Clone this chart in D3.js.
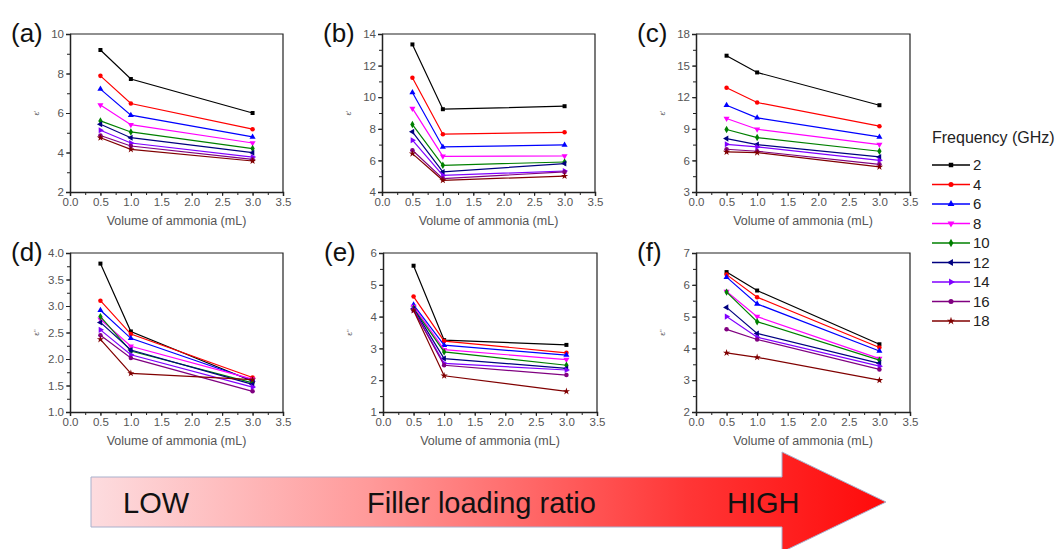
<!DOCTYPE html>
<html>
<head>
<meta charset="utf-8">
<script src="https://cdn.jsdelivr.net/npm/d3@7"></script>
<style>
  body { margin: 0; background: #fff; }
  svg { font-family: Arial, "Liberation Sans", sans-serif; }
  .tick text { fill: #555; font-size: 11.5px; }
  .tick line, .domain { stroke: #222; }
</style>
</head>
<body>
<script>
var volumes = [0.5, 1.0, 3.0],
    freqs = ["2", "4", "6", "8", "10", "12", "14", "16", "18"],
    colors = ["#000000", "#ff0000", "#0000ff", "#ff00ff", "#008000", "#000080", "#8000ff", "#800080", "#800000"];

// real permittivity, one row per frequency (2..18 GHz)
var epsRealA = [[9.19, 7.72, 6.0], [7.88, 6.48, 5.18], [7.21, 5.89, 4.79], [6.40, 5.41, 4.48], [5.60, 5.04, 4.20],
                [5.43, 4.75, 3.99], [5.13, 4.48, 3.77], [4.86, 4.33, 3.65], [4.75, 4.16, 3.57]];
var epsRealB = [[13.34, 9.24, 9.43], [11.23, 7.66, 7.78], [10.30, 6.85, 6.98], [9.29, 6.26, 6.28], [8.27, 5.69, 5.90],
                [7.81, 5.27, 5.80], [7.28, 5.05, 5.33], [6.64, 4.85, 5.27], [6.43, 4.74, 5.01]];
var epsRealC = [[15.94, 14.35, 11.24], [12.89, 11.50, 9.25], [11.24, 10.04, 8.23], [9.98, 8.96, 7.50], [8.93, 8.17, 6.87],
                [8.07, 7.50, 6.33], [7.53, 7.28, 6.01], [7.06, 6.87, 5.63], [6.80, 6.74, 5.38]];
// imaginary permittivity
var epsImagD = [[3.80, 2.52, 1.58], [3.10, 2.47, 1.65], [2.92, 2.39, 1.60], [2.75, 2.24, 1.62], [2.80, 2.15, 1.55],
                [2.69, 2.17, 1.52], [2.55, 2.08, 1.47], [2.45, 2.02, 1.39], [2.37, 1.73, 1.61]];
var epsImagE = [[5.60, 3.26, 3.11], [4.63, 3.23, 2.86], [4.37, 3.10, 2.79], [4.32, 2.96, 2.65], [4.26, 2.89, 2.47],
                [4.25, 2.68, 2.37], [4.21, 2.53, 2.32], [4.21, 2.47, 2.16], [4.19, 2.14, 1.65]];
var epsImagF = [[6.40, 5.82, 4.13], [6.32, 5.61, 4.03], [6.24, 5.40, 3.92], [5.79, 5.00, 3.68], [5.77, 4.84, 3.63],
                [5.29, 4.47, 3.53], [5.00, 4.35, 3.44], [4.60, 4.28, 3.34], [3.86, 3.72, 3.00]];

var panels = [
  {tag: "(a)", data: epsRealA, y: [2, 10], step: 2, label: "ε'", x0: 70, x1: 283, y0: 34, y1: 192},
  {tag: "(b)", data: epsRealB, y: [4, 14], step: 2, label: "ε'", x0: 382, x1: 595, y0: 34, y1: 192},
  {tag: "(c)", data: epsRealC, y: [3, 18], step: 3, label: "ε'", x0: 696, x1: 910, y0: 34, y1: 192},
  {tag: "(d)", data: epsImagD, y: [1, 4], step: 0.5, label: "ε''", x0: 70, x1: 283, y0: 253, y1: 412},
  {tag: "(e)", data: epsImagE, y: [1, 6], step: 1, label: "ε''", x0: 383, x1: 597, y0: 253, y1: 412},
  {tag: "(f)", data: epsImagF, y: [2, 7], step: 1, label: "ε''", x0: 696, x1: 910, y0: 253, y1: 412}
];

var symbols = [
  {type: d3.symbolSquare, rot: 0}, {type: d3.symbolCircle, rot: 0}, {type: d3.symbolTriangle, rot: 0},
  {type: d3.symbolTriangle, rot: 180}, {type: d3.symbolDiamond, rot: 0}, {type: d3.symbolTriangle, rot: -90},
  {type: d3.symbolTriangle, rot: 90}, {type: d3.symbolCircle, rot: 0}, {type: d3.symbolStar, rot: 0}
];

var svg = d3.select("body").append("svg")
    .attr("width", 1058)
    .attr("height", 549);

// ---- arrow at the bottom ----
var grad = svg.append("defs").append("linearGradient")
    .attr("id", "arrowGrad")
    .attr("x1", "0%").attr("x2", "100%");
grad.append("stop").attr("offset", "0%").attr("stop-color", "#fddcdf");
grad.append("stop").attr("offset", "35%").attr("stop-color", "#ff9a9a");
grad.append("stop").attr("offset", "75%").attr("stop-color", "#ff3636");
grad.append("stop").attr("offset", "100%").attr("stop-color", "#ff0a0a");

var ax0 = 91, axBase = 782, axTip = 886, ayMid = 502;
svg.append("path")
    .attr("d", `M${ax0},${ayMid - 25} H${axBase} V${ayMid - 50} L${axTip},${ayMid} L${axBase},${ayMid + 50} V${ayMid + 25} H${ax0} Z`)
    .attr("fill", "url(#arrowGrad)")
    .attr("stroke", "#a9b0cc")
    .attr("stroke-width", 1);

[["LOW", 123], ["Filler loading ratio", 367], ["HIGH", 727]].forEach((t) => {
  svg.append("text")
      .attr("x", t[1]).attr("y", 513)
      .style("font-size", "29px")
      .style("fill", "#111")
      .text(t[0]);
});

// ---- panels ----
panels.forEach((p) => {
  var x = d3.scaleLinear().domain([0, 3.5]).range([p.x0, p.x1]),
      y = d3.scaleLinear().domain(p.y).range([p.y1, p.y0]);

  var g = svg.append("g");

  var yTicks = d3.range(p.y[0], p.y[1] + 1e-9, p.step),
      yMinor = d3.range(p.y[0], p.y[1] + 1e-9, p.step / 2);

  // minor ticks
  g.append("g")
      .attr("transform", `translate(0,${p.y1})`)
      .call(d3.axisBottom(x).tickValues(d3.range(0, 3.51, 0.25)).tickSize(3).tickFormat(""))
      .call((s) => s.select(".domain").remove());
  g.append("g")
      .attr("transform", `translate(${p.x0},0)`)
      .call(d3.axisLeft(y).tickValues(yMinor).tickSize(3).tickFormat(""))
      .call((s) => s.select(".domain").remove());

  g.append("g")
      .attr("transform", `translate(0,${p.y1})`)
      .call(d3.axisBottom(x).tickValues(d3.range(0, 3.51, 0.5)).tickSize(4).tickPadding(2).tickFormat(d3.format(".1f")))
      .call((s) => s.select(".domain").attr("stroke-width", 1.5));
  g.append("g")
      .attr("transform", `translate(${p.x0},0)`)
      .call(d3.axisLeft(y).tickValues(yTicks).tickSize(4).tickPadding(2)
        .tickFormat(p.step < 1 ? d3.format(".1f") : d3.format("d")))
      .call((s) => s.select(".domain").attr("stroke-width", 1.5));

  // box top / right
  g.append("path")
      .attr("d", `M${p.x0},${p.y0} H${p.x1} V${p.y1}`)
      .attr("fill", "none")
      .attr("stroke", "#222")
      .attr("stroke-width", 1.2);

  g.append("text")
      .attr("x", (p.x0 + p.x1) / 2)
      .attr("y", p.y1 + 33)
      .attr("text-anchor", "middle")
      .style("font-size", "12.5px")
      .style("fill", "#555")
      .text("Volume of ammonia (mL)");

  g.append("text")
      .attr("transform", `translate(${p.x0 - 31},${(p.y0 + p.y1) / 2}) rotate(-90)`)
      .attr("text-anchor", "middle")
      .style("font-size", "8px")
      .style("fill", "#555")
      .text(p.label);

  g.append("text")
      .attr("x", p.x0 - 59)
      .attr("y", p.y0 + 8)
      .style("font-size", "26px")
      .style("fill", "#111")
      .text(p.tag);

  var line = d3.line().x((d, i) => x(volumes[i])).y((d) => y(d));

  p.data.forEach((series, k) => {
    g.append("path")
        .datum(series)
        .attr("d", line)
        .attr("fill", "none")
        .attr("stroke", colors[k])
        .attr("stroke-width", 1.2);

    g.selectAll(null)
        .data(series)
      .enter().append("path")
        .attr("transform", (d, i) => `translate(${x(volumes[i])},${y(d)}) rotate(${symbols[k].rot})`)
        .attr("d", d3.symbol().type(symbols[k].type).size(16))
        .attr("fill", colors[k]);
  });
});

// ---- legend ----
var legend = svg.append("g");
legend.append("text")
    .attr("x", 932).attr("y", 143)
    .style("font-size", "16px")
    .style("fill", "#222")
    .text("Frequency (GHz)");

var item = legend.selectAll(".item")
    .data(freqs)
  .enter().append("g")
    .attr("class", "item")
    .attr("transform", (d, i) => `translate(0,${165 + i * 19.5})`);

item.append("line")
    .attr("x1", 932).attr("x2", 970)
    .attr("stroke", (d, i) => colors[i])
    .attr("stroke-width", 1.5);

item.append("path")
    .attr("transform", (d, i) => `translate(951,0) rotate(${symbols[i].rot})`)
    .attr("d", (d, i) => d3.symbol().type(symbols[i].type).size(20)())
    .attr("fill", (d, i) => colors[i]);

item.append("text")
    .attr("x", 973).attr("dy", "0.36em")
    .style("font-size", "15px")
    .style("fill", "#222")
    .text((d) => d);
</script>
</body>
</html>
